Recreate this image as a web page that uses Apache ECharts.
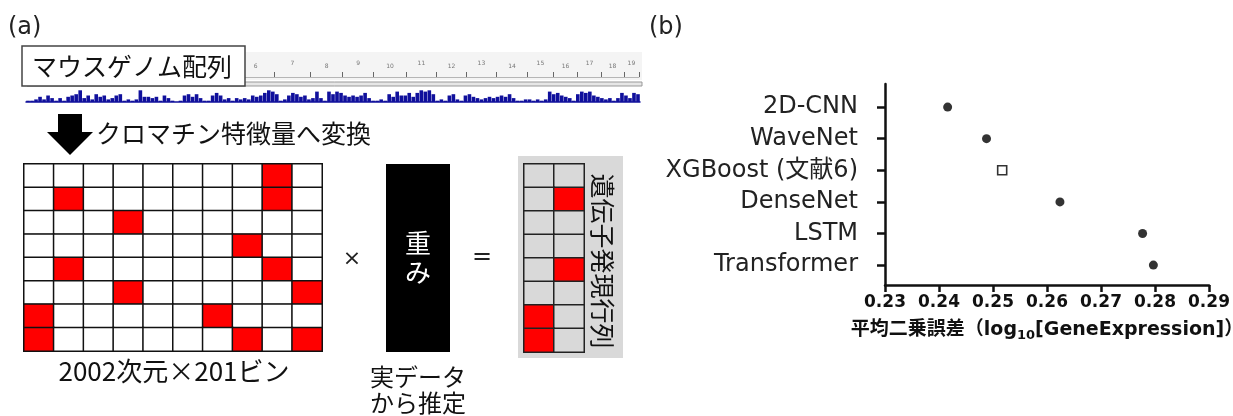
<!DOCTYPE html>
<html><head><meta charset="utf-8">
<script src="https://cdn.jsdelivr.net/npm/echarts@6/dist/echarts.min.js"></script>
<style>html,body{margin:0;padding:0;background:#fff}#c{width:1233px;height:416px}</style>
</head><body><div id="c"></div>
<script>
// ---- panel (a) data ----
const chromNames = ['1','2','3','4','5','6','7','8','9','10','11','12','13','14','15','16','17','18','19'];
const chromSizes = [195,182,160,157,152,150,145,130,125,131,122,120,121,125,104,98,95,91,61];
const trackSignal = [1,1,2,4,2,5,3,1,3,1,4,5,6,9,3,5,2,6,4,5,2,3,5,6,1,2,1,2,9,4,4,3,4,1,5,3,1,0,1,5,6,4,6,3,1,1,5,7,5,2,3,1,3,2,3,2,5,4,5,7,9,8,6,1,2,5,7,6,4,5,2,3,8,3,1,8,6,8,7,5,4,5,4,5,7,3,1,1,2,1,6,4,8,5,5,7,4,7,9,8,9,6,1,2,1,5,6,2,1,5,6,4,3,2,3,4,3,4,5,4,6,3,1,1,2,2,1,2,1,2,8,6,7,5,4,3,1,6,8,7,8,5,4,3,2,3,1,3,7,5,3,7,6];
const featureCols = 10, featureRows = 8;
const featureRed = [[8,0],[1,1],[8,1],[3,2],[7,3],[1,4],[8,4],[3,5],[9,5],[0,6],[6,6],[0,7],[7,7],[9,7]];
const outCols = 2, outRows = 8;
const outRed = [[1,1],[1,4],[0,6],[0,7]];
// ---- panel (b) data ----
const models = ['2D-CNN','WaveNet','XGBoost (文献6)','DenseNet','LSTM','Transformer'];
const mse = [0.2416, 0.2488, 0.2517, 0.2624, 0.2777, 0.2797];
const isReference = [false,false,true,false,false,false];
const xMin = 0.23, xMax = 0.29, xStep = 0.01;

const JP = '"Noto Sans CJK JP", sans-serif';
const LAT = '"DejaVu Sans", "Noto Sans CJK JP", sans-serif';

// chromosome boundaries and midpoints (Mb)
const bounds = []; const mids = []; let acc = 0;
chromSizes.forEach(s => { mids.push(acc + s / 2); acc += s; bounds.push(acc); });
const genomeLen = acc;

function cells(nc, nr, red, base, redColor) {
  const out = [];
  for (let r = 0; r < nr; r++) for (let c = 0; c < nc; c++) {
    const on = red.some(p => p[0] === c && p[1] === r);
    out.push({ value: [c, r, on ? 1 : 0], itemStyle: { color: on ? redColor : base } });
  }
  return out;
}
const idx = n => Array.from({ length: n }, (_, i) => String(i));

const chart = echarts.init(document.getElementById('c'), null, { renderer: 'canvas' });
const hiddenCat = (g, n, inv) => ({ gridIndex: g, type: 'category', data: idx(n), inverse: !!inv, show: false, boundaryGap: true });

chart.setOption({
  animation: false,
  backgroundColor: '#ffffff',
  grid: [
    { left: 27, top: 52, width: 612, height: 25, outerBoundsMode: 'none', containLabel: false },
    { left: 26, top: 89, width: 614, height: 13, outerBoundsMode: 'none', containLabel: false },
    { left: 24, top: 164, width: 298, height: 187, outerBoundsMode: 'none', containLabel: false },
    { left: 524, top: 164, width: 60, height: 188, outerBoundsMode: 'none', containLabel: false },
    { left: 885, top: 84, width: 324, height: 201, outerBoundsMode: 'none', containLabel: false }
  ],
  xAxis: [
    { gridIndex: 0, type: 'value', min: 0, max: genomeLen, position: 'bottom',
      axisLine: { show: true, onZero: false, lineStyle: { color: '#b5b5b5', width: 1 } },
      axisTick: { show: true, inside: true, length: 5, customValues: bounds, lineStyle: { color: '#666', width: 1 } },
      axisLabel: { show: true, inside: true, margin: 8, customValues: mids, fontSize: 6, color: '#777', fontFamily: LAT,
        formatter: v => { let b = 0; mids.forEach((m, i) => { if (Math.abs(m - v) < Math.abs(mids[b] - v)) b = i; });
          return (b % 2 === 0) ? '{hi|' + chromNames[b] + '}' : '{lo|' + chromNames[b] + '}'; },
        rich: { hi: { fontSize: 6, color: '#777', padding: [0, 0, 3, 0] }, lo: { fontSize: 6, color: '#777' } } },
      splitLine: { show: false } },
    { gridIndex: 1, type: 'category', data: trackSignal.map((_, i) => String(i)), boundaryGap: true,
      axisLine: { show: true, onZero: false, lineStyle: { color: '#10109c', width: 1.5 } },
      axisTick: { show: false }, axisLabel: { show: false }, splitLine: { show: false } },
    hiddenCat(2, featureCols),
    hiddenCat(3, outCols),
    { gridIndex: 4, type: 'value', min: xMin, max: xMax, interval: xStep,
      axisLine: { show: true, onZero: false, lineStyle: { color: '#111', width: 2.5 } },
      axisTick: { show: true, length: 7, lineStyle: { color: '#111', width: 2.5 } },
      axisLabel: { formatter: v => v.toFixed(2), fontFamily: LAT, fontWeight: 'bold', fontSize: 17, color: '#111', margin: 9 },
      splitLine: { show: false },
      name: '平均二乗誤差（log{sub|10}[GeneExpression]）', nameLocation: 'middle', nameGap: 33,
      nameTextStyle: { fontFamily: LAT, fontWeight: 'bold', fontSize: 19, color: '#111',
        rich: { sub: { fontFamily: LAT, fontWeight: 'bold', fontSize: 13, color: '#111', verticalAlign: 'bottom', padding: [11, 0, 0, 0] } } } }
  ],
  yAxis: [
    { gridIndex: 0, type: 'value', show: false },
    { gridIndex: 1, type: 'value', min: 0, max: 10, show: false },
    hiddenCat(2, featureRows, true),
    hiddenCat(3, outRows, true),
    { gridIndex: 4, type: 'value', inverse: true, min: -0.73, max: 5.63,
      axisLine: { show: true, onZero: false, lineStyle: { color: '#111', width: 2.5 } },
      axisTick: { show: true, length: 8, customValues: models.map((_, i) => i), lineStyle: { color: '#111', width: 2.5 } },
      axisLabel: { show: true, customValues: models.map((_, i) => i), formatter: v => models[Math.round(v)],
        fontFamily: LAT, fontSize: 24, color: '#222', margin: 27 },
      splitLine: { show: false } }
  ],
  series: [
    { type: 'bar', xAxisIndex: 1, yAxisIndex: 1, data: trackSignal, barCategoryGap: '10%',
      itemStyle: { color: '#10109c' }, silent: true },
    { type: 'heatmap', xAxisIndex: 2, yAxisIndex: 2, data: cells(featureCols, featureRows, featureRed, '#ffffff', '#ff0000'),
      itemStyle: { borderColor: '#111', borderWidth: 1.5 }, emphasis: { disabled: true }, silent: true },
    { type: 'heatmap', xAxisIndex: 3, yAxisIndex: 3, data: cells(outCols, outRows, outRed, '#d9d9d9', '#ff0000'),
      itemStyle: { borderColor: '#222', borderWidth: 1.5 }, emphasis: { disabled: true }, silent: true },
    { type: 'scatter', xAxisIndex: 4, yAxisIndex: 4, symbol: 'circle', symbolSize: 9,
      data: mse.map((v, i) => isReference[i] ? null : [v, i]).filter(d => d),
      itemStyle: { color: '#000' }, silent: true },
    { type: 'scatter', xAxisIndex: 4, yAxisIndex: 4, symbol: 'rect', symbolSize: 9,
      data: mse.map((v, i) => isReference[i] ? [v, i] : null).filter(d => d),
      itemStyle: { color: '#fff', borderColor: '#000', borderWidth: 1.6 }, silent: true }
  ],
  graphic: [
    { type: 'rect', z: -10, shape: { x: 27, y: 52, width: 615, height: 28 }, style: { fill: '#f4f4f4' } },
    { type: 'rect', z: -5, shape: { x: 27, y: 82, width: 615, height: 4 }, style: { fill: '#e6e6e6', stroke: '#999', lineWidth: 1 } },
    { type: 'rect', z: -10, shape: { x: 518, y: 156, width: 105, height: 202 }, style: { fill: '#d9d9d9' } },
    { type: 'rect', z: 100, shape: { x: 22, y: 46, width: 223, height: 40 }, style: { fill: '#fff', stroke: '#444', lineWidth: 1.5 } },
    { type: 'text', z: 101, x: 132, y: 66, style: { text: 'マウスゲノム配列', fontSize: 25, fontFamily: JP, fill: '#111', align: 'center', verticalAlign: 'middle' } },
    { type: 'text', x: 8, y: 28, style: { text: '(a)', fontSize: 24, fontFamily: LAT, fill: '#222', align: 'left', verticalAlign: 'middle' } },
    { type: 'text', x: 649, y: 28, style: { text: '(b)', fontSize: 24, fontFamily: LAT, fill: '#222', align: 'left', verticalAlign: 'middle' } },
    { type: 'polygon', shape: { points: [[58,114],[82,114],[82,132],[93,132],[70,155],[47,132],[58,132]] }, style: { fill: '#000' } },
    { type: 'text', x: 96, y: 133, style: { text: 'クロマチン特徴量へ変換', fontSize: 25, fontFamily: JP, fill: '#111', align: 'left', verticalAlign: 'middle' } },
    { type: 'text', x: 174, y: 371, style: { text: '2002次元×201ビン', fontSize: 26, fontFamily: JP, fill: '#111', align: 'center', verticalAlign: 'middle' } },
    { type: 'text', x: 352, y: 259, style: { text: '×', fontSize: 22, fontFamily: LAT, fill: '#222', align: 'center', verticalAlign: 'middle' } },
    { type: 'rect', shape: { x: 386, y: 164, width: 64, height: 188 }, style: { fill: '#000' } },
    { type: 'text', z: 5, x: 418, y: 243, style: { text: '重', fontSize: 26, fontFamily: JP, fill: '#fff', align: 'center', verticalAlign: 'middle' } },
    { type: 'text', z: 5, x: 418, y: 272, style: { text: 'み', fontSize: 26, fontFamily: JP, fill: '#fff', align: 'center', verticalAlign: 'middle' } },
    { type: 'text', x: 482, y: 258, style: { text: '=', fontSize: 24, fontFamily: LAT, fill: '#222', align: 'center', verticalAlign: 'middle' } },
    { type: 'text', x: 418, y: 377, style: { text: '実データ', fontSize: 24, fontFamily: JP, fill: '#111', align: 'center', verticalAlign: 'middle' } },
    { type: 'text', x: 418, y: 403, style: { text: 'から推定', fontSize: 24, fontFamily: JP, fill: '#111', align: 'center', verticalAlign: 'middle' } },
    { type: 'text', x: 602, y: 261, rotation: -Math.PI / 2, style: { text: '遺伝子発現行列', fontSize: 25, fontFamily: JP, fill: '#111', align: 'center', verticalAlign: 'middle' } }
  ]
});
</script></body></html>
